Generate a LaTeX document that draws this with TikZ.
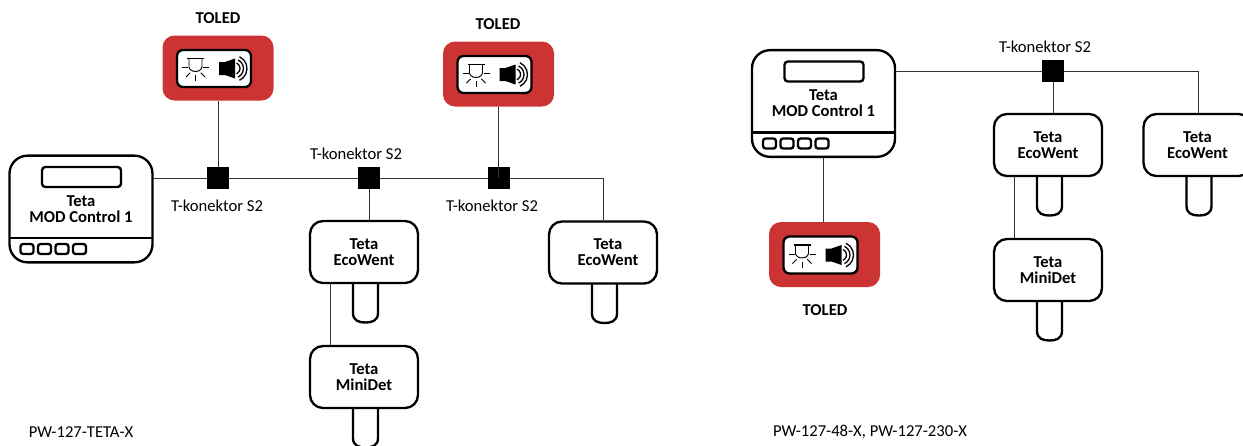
\documentclass[tikz,border=0pt]{standalone}
\usepackage{fontspec}
\setmainfont{Carlito}
\definecolor{toledred}{HTML}{CC3333}
\definecolor{wirecol}{HTML}{333333}
\tikzset{
  wire/.style={draw=wirecol, line width=0.8pt},
  outline/.style={draw=black, line width=2pt},
  junction/.style={fill=black, inner sep=0pt, minimum size=0.66cm},
  sensor/.style={outline, fill=white, rounded corners=0.39cm, minimum width=3.24cm, minimum height=1.86cm, align=center, font=\fontsize{14.2}{13.6}\selectfont\bfseries},
  control/.style={outline, fill=white, rounded corners=0.54cm, minimum width=4.29cm, minimum height=3.2cm, align=center, font=\fontsize{14.2}{13.6}\selectfont\bfseries},
  toled/.style={fill=toledred, rounded corners=0.36cm, minimum width=3.33cm, minimum height=1.95cm},
  title/.style={font=\fontsize{14.2}{13.6}\selectfont\bfseries},
  tag/.style={font=\fontsize{14.2}{13.6}\selectfont},
  probepic/.pic={
    \draw[outline] (-12.5,0) -- (-12.5,30) .. controls (-12.5,38) and (-6,39.5) .. (0,39.5) .. controls (6,39.5) and (12.5,38) .. (12.5,30) -- (12.5,0);
  },
  facepic/.pic={
    \draw[outline, rounded corners=0.1cm] (-39,-42) rectangle (40,-22);
    \draw[outline] (-71.5,29) -- (71.5,29);
    \foreach \k in {-54,-36.5,-19,-1.5}
    \draw[outline, rounded corners=0.08cm] (\k-6.5,35) rectangle (\k+6.5,45);
  },
  iconpic/.pic={
    \draw[outline, fill=white, rounded corners=0.18cm] (-37,-18.5) rectangle (37,18.5);
    % lamp
    \draw[line width=1.5pt] (-27,-10) -- (-10,-10);
    \draw[line width=0.8pt] (-25,-10) -- (-25,-2) arc (180:0:6.5 and 5) -- (-12,-10);
    \foreach \a in {180,135,90,45,0}
    \draw[line width=0.8pt] (-18.5,-1) ++(\a:7.5) -- ++(\a:6);
    % horn
    \fill (5,-6.5) -- (11,-6.5) -- (21,-10) -- (21,10) -- (11,6.5) -- (5,6.5) -- cycle;
    \foreach \r in {6,9.5,13}
    \draw[line width=1.1pt] (20,0) ++(-65:\r) arc (-65:65:\r);
  },
}
\begin{document}
\begin{tikzpicture}[x=0.03cm, y=-0.03cm]
\useasboundingbox (0,0) rectangle (1243,445);
\clip (0,0) rectangle (1243,445);
% red boxes
\foreach \n/\x/\y in {tA/218/68,tB/498.5/74,tC/824.5/254.5}
\node[toled] (\n) at (\x,\y) {};
\foreach \n/\x/\y in {lA/218/18,lB/498/24,lC/825/310}
\node[title] (\n) at (\x,\y) {TOLED};
% junctions
\foreach \n/\x/\y in {jA/218/178,jB/369/178,jC/499/178,jD/1053/71}
\node[junction] (\n) at (\x,\y) {};
% boxes with a probe
\foreach \n/\x/\y/\t/\d in {eA/364/252/EcoWent/0,eB/603/252.5/EcoWent/8.5,mA/364/377/MiniDet/0,eC/1048/145/EcoWent/0,mB/1048/270/MiniDet/0,eD/1197.5/145/EcoWent/0}{
\path (\x+1.5,\y+31) pic {probepic};
\node[sensor] (\n) at (\x,\y) {\hspace*{\d pt}Teta\\\hspace*{\d pt}\t};
}
% the two controllers
\node[control] (cA) at (81,209) {Teta\\MOD Control 1};
\node[control] (cB) at (823.5,103.5) {Teta\\MOD Control 1};
\path (cA) pic {facepic} (cB) pic {facepic};
% wires
\coordinate (kA) at (603,178);
\coordinate (kB) at (1198,71);
\coordinate (kC) at (330,283);
\coordinate (kD) at (1014,176);
\draw[wire] (cA.east |- jA) -- (jA) -- (jB) -- (jC) -- (kA) -- (eB.north -| kA);
\draw[wire] (tA) -- (jA);
\draw[wire] (tB.south) -- (tB.south |- jC);
\draw[wire] (jB) -- (jB |- eA.north);
\draw[wire] (kC) -- (kC |- mA.north);
\draw[wire] (cB.east |- jD) -- (jD) -- (kB) -- (kB |- eD.north);
\draw[wire] (jD) -- (jD |- eC.north);
\draw[wire] (kD) -- (kD |- mB.north);
\draw[wire] (cB.south) -- (cB.south |- tC.north);
% icons
\foreach \n in {tA,tB,tC}
\path (\n) ++(-4,0.5) pic {iconpic};
% labels
\foreach \n/\x/\y in {sA/217/206,sB/356/154,sC/492/206,sD/1045/47}
\node[tag] (\n) at (\x,\y) {T-konektor S2};
\node[tag] (pA) at (81,432) {PW-127-TETA-X};
\node[tag] (pB) at (870,432) {PW-127-48-X, PW-127-230-X};
\end{tikzpicture}
\end{document}
